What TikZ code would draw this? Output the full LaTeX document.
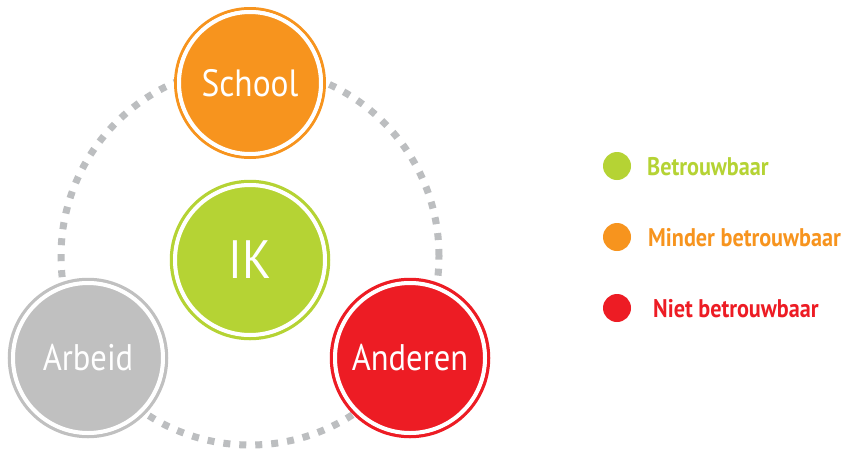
\documentclass[tikz,border=0pt]{standalone}
\usepackage{fontspec}
\newfontfamily\circfont{PT Sans}[FakeStretch=0.88]
\newfontfamily\legfont{PT Sans}[FakeStretch=0.87]
\definecolor{cgreen}{RGB}{181,211,52}
\definecolor{corange}{RGB}{247,148,30}
\definecolor{cred}{RGB}{237,28,36}
\definecolor{cgray}{RGB}{192,192,192}
\definecolor{cdash}{RGB}{188,190,192}
\tikzset{
  disc/.style={circle, inner sep=0pt, draw=white, line width=4pt, text=white},
  legdot/.style={circle, inner sep=0pt, minimum size=28pt},
  legtext/.style={anchor=base west, inner sep=0pt, font=\legfont\bfseries\fontsize{25.5}{27}\selectfont},
}
\begin{document}
\begin{tikzpicture}[x=1pt,y=-1pt]
\useasboundingbox[fill=white] (0,0) rectangle (845,450);
% dotted ring
\draw[cdash, line width=7pt, dash pattern=on 7pt off 9pt] (250,256) circle (189pt);
% School
\draw[corange, line width=3pt, fill=white] (250,83) circle (74.5pt);
\node[disc, fill=corange, minimum size=142pt, font=\circfont\fontsize{38}{40}\selectfont] (school) at (250,83) {School};
% IK
\draw[cgreen, line width=3.5pt, fill=white] (250,260) circle (78.5pt);
\node[disc, fill=cgreen, minimum size=150pt, font=\circfont\fontsize{54}{56}\selectfont] (ik) at (250,260) {IK};
% Arbeid
\draw[cgray, line width=3.5pt, fill=white] (88,358) circle (78.5pt);
\node[disc, fill=cgray, minimum size=150pt, font=\circfont\fontsize{37}{39}\selectfont] (arbeid) at (88,358) {Arbeid};
% Anderen
\draw[cred, line width=3.5pt, fill=white] (410,358) circle (78.5pt);
\node[disc, fill=cred, minimum size=150pt, font=\circfont\fontsize{37}{39}\selectfont] (anderen) at (410,358) {Anderen};
% legend
\node[legdot, fill=cgreen] (d1) at (617,166) {};
\node[legdot, fill=corange] (d2) at (617,237) {};
\node[legdot, fill=cred] (d3) at (617,308) {};
\node[legtext, text=cgreen] (t1) at (647,175) {Betrouwbaar};
\node[legtext, text=corange] (t2) at (648,246) {Minder betrouwbaar};
\node[legtext, text=cred] (t3) at (653,317) {Niet betrouwbaar};
\end{tikzpicture}
\end{document}
